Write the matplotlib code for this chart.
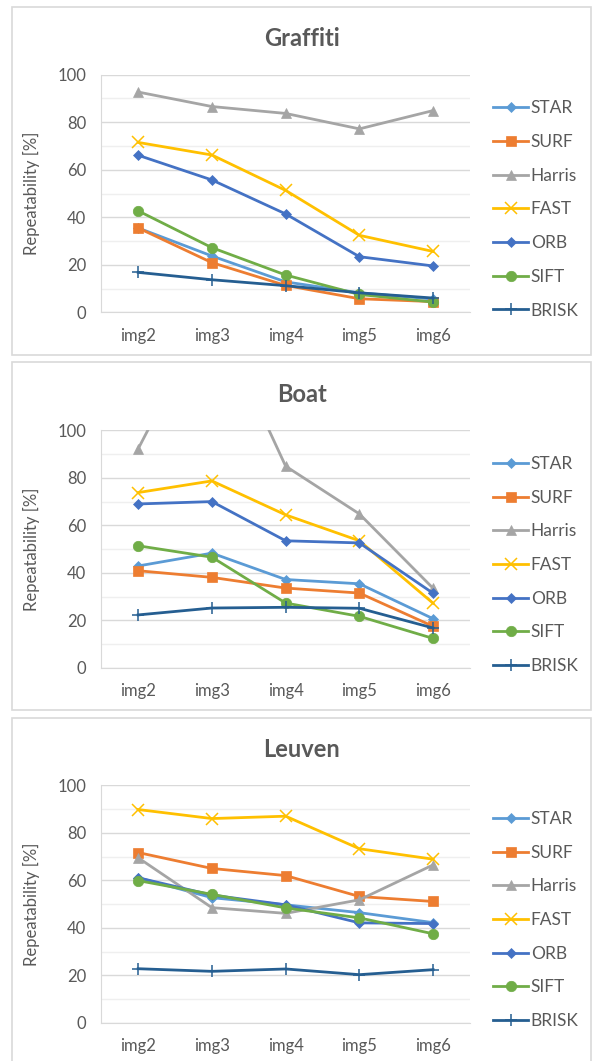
import matplotlib
matplotlib.use('Agg')
import matplotlib.pyplot as plt
from matplotlib.patches import Rectangle

plt.rcParams['font.family'] = ['Lato', 'DejaVu Sans']

# Data
images = ['img2', 'img3', 'img4', 'img5', 'img6']
methods = ['STAR', 'SURF', 'Harris', 'FAST', 'ORB', 'SIFT', 'BRISK']

graffiti = [
    [35.5, 23.7, 12.8, 8.2, 5.6],    # STAR
    [35.5, 20.9, 11.3, 5.7, 4.5],    # SURF
    [92.7, 86.6, 83.7, 77.2, 84.9],  # Harris
    [71.5, 66.2, 51.3, 32.4, 25.6],  # FAST
    [66.1, 55.7, 41.4, 23.4, 19.5],  # ORB
    [42.7, 27.2, 15.7, 7.5, 4.3],    # SIFT
    [16.8, 13.7, 11.2, 8.2, 6.0],    # BRISK
]
boat = [
    [42.9, 48.3, 37.2, 35.4, 20.7],
    [40.9, 38.1, 33.6, 31.5, 17.5],
    [92.2, 152.0, 84.9, 64.8, 33.5],
    [73.8, 78.7, 64.4, 53.5, 27.2],
    [69.0, 70.0, 53.5, 52.6, 31.4],
    [51.4, 46.6, 27.3, 21.7, 12.4],
    [22.3, 25.2, 25.5, 25.1, 16.8],
]
leuven = [
    [61.1, 52.7, 49.7, 46.4, 42.2],
    [71.7, 65.0, 62.0, 53.2, 51.1],
    [69.5, 48.5, 46.1, 51.8, 66.5],
    [89.8, 86.0, 87.0, 73.3, 68.9],
    [61.1, 53.8, 49.7, 42.1, 41.8],
    [59.9, 54.1, 48.4, 44.2, 37.5],
    [22.8, 21.7, 22.7, 20.3, 22.4],
]
titles = ['Graffiti', 'Boat', 'Leuven']
datasets = [graffiti, boat, leuven]

colors = ['#5B9BD5', '#ED7D31', '#A5A5A5', '#FFC000', '#4472C4', '#70AD47', '#255E91']
markers = ['D', 's', '^', 'x', 'D', 'o', '+']
msizes = [5, 7, 7, 8, 5.5, 7.5, 8]

W, H = 593, 1061
fig = plt.figure(figsize=(W / 100, H / 100), dpi=100)

# pixel positions of each panel (top of plot, title baseline, panel box)
plot_tops = [74.7, 430.3, 785.3]
title_base = [46, 401.7, 757]
boxes = [(12, 7, 355), (12, 362, 710), (12, 718, 1066)]
plot_h = 237.6
ax_left, ax_right = 101.3, 470

txt = '#595959'
for k in range(3):
    x0, ytop, ybot = boxes[k]
    fig.patches.append(Rectangle((x0 / W, 1 - ybot / H), (591 - x0) / W, (ybot - ytop) / H,
                                 transform=fig.transFigure, fill=False,
                                 edgecolor='#D9D9D9', linewidth=1.2))

    top = plot_tops[k]
    ax = fig.add_axes([ax_left / W, 1 - (top + plot_h) / H, (ax_right - ax_left) / W, plot_h / H])
    x = range(len(images))
    for i, m in enumerate(methods):
        ax.plot(x, datasets[k][i], color=colors[i], marker=markers[i], markersize=msizes[i],
                markeredgewidth=1.1 if markers[i] in ('x', '+') else 0.5,
                linewidth=2, label=m, zorder=3)

    ax.set_xlim(-0.5, len(images) - 0.5)
    ax.set_ylim(0, 100)
    ax.set_yticks(range(0, 101, 20))
    ax.set_yticks(range(10, 100, 20), minor=True)
    ax.set_xticks(list(x))
    ax.set_xticklabels(images)
    ax.grid(axis='y', which='major', color='#D9D9D9', linewidth=1, zorder=0)
    ax.grid(axis='y', which='minor', color='#EFEFEF', linewidth=1, zorder=0)
    ax.tick_params(axis='both', which='both', length=0, colors=txt, labelsize=12)
    ax.tick_params(axis='y', pad=11)
    ax.tick_params(axis='x', pad=11)
    for s in ['top', 'right']:
        ax.spines[s].set_visible(False)
    for s in ['left', 'bottom']:
        ax.spines[s].set_color('#D9D9D9')
    ax.set_ylabel('Repeatability [%]', color=txt, fontsize=12, labelpad=12)

    leg = ax.legend(loc='center left', bbox_to_anchor=((493.3 - ax_left) / (ax_right - ax_left), 0.433),
                    frameon=False, fontsize=12.5, handlelength=2.0, handletextpad=0.15,
                    labelspacing=1.02, borderpad=0, borderaxespad=0)
    for t in leg.get_texts():
        t.set_color(txt)

    fig.text(302 / W, 1 - title_base[k] / H, titles[k], ha='center', va='baseline',
             fontsize=17, fontweight='bold', color=txt)

fig.savefig('out.png', dpi=100)
